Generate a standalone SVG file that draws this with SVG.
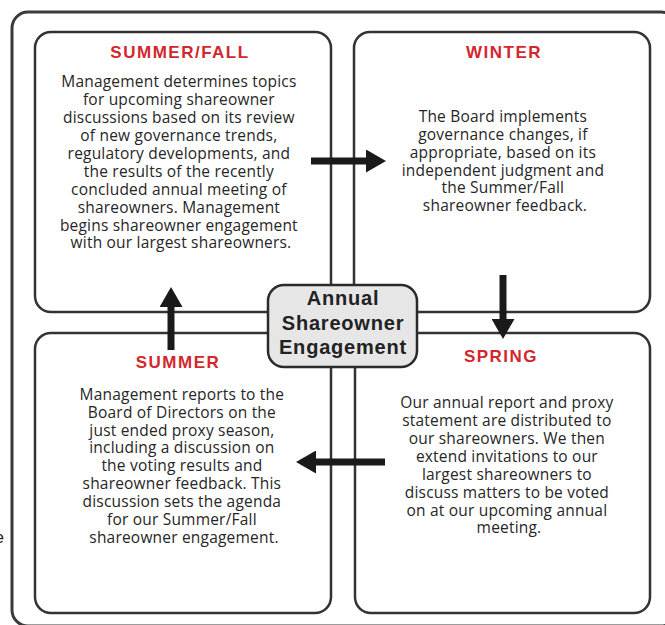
<svg xmlns="http://www.w3.org/2000/svg" width="665" height="625" viewBox="0 0 665 625">
<defs>
<style>
.frame{fill:none;stroke:#3a3a3a;stroke-width:3}
.box{fill:#fff;stroke:#333;stroke-width:2.5}
.hub{fill:#e6e6e6;stroke:#2a2a2a;stroke-width:2.5}
.title{font-family:"Liberation Sans",Arial,sans-serif;font-weight:bold;font-size:17px;fill:#d3272e;letter-spacing:1.5px;text-anchor:middle}
.hubtext{font-family:"Liberation Sans",Arial,sans-serif;font-weight:bold;font-size:20px;fill:#222;letter-spacing:0.8px;text-anchor:middle}
.body{font-family:"Open Sans","Liberation Sans",sans-serif;font-size:15.5px;fill:#262626;text-anchor:middle;letter-spacing:0.2px}
.conn{stroke:#1a1a1a;stroke-width:7;fill:none}
</style>
<marker id="head" markerUnits="userSpaceOnUse" markerWidth="20" markerHeight="23" viewBox="0 0 20 23" refX="1" refY="11.5" orient="auto">
<path d="M0,0 L20,11.5 L0,23 z" fill="#1a1a1a"/>
</marker>
</defs>
<rect width="665" height="625" fill="#fff"/>
<rect class="frame" x="12" y="12" width="665" height="614" rx="16"/>
<text x="4" y="543" font-family="Liberation Sans, Arial, sans-serif" font-size="17" fill="#222" text-anchor="end">e</text>

<g id="summerfall">
<rect class="box" x="35" y="32" width="296" height="280" rx="16"/>
<text class="title" x="180" y="58">SUMMER/FALL</text>
<text class="body">
<tspan x="181" y="87">Management determines topics</tspan>
<tspan x="181" y="105">for upcoming shareowner</tspan>
<tspan x="181" y="123">discussions based on its review</tspan>
<tspan x="181" y="141">of new governance trends,</tspan>
<tspan x="181" y="159">regulatory developments, and</tspan>
<tspan x="181" y="177">the results of the recently</tspan>
<tspan x="181" y="195">concluded annual meeting of</tspan>
<tspan x="181" y="213">shareowners.  Management</tspan>
<tspan x="181" y="231">begins shareowner engagement</tspan>
<tspan x="181" y="248">with our largest shareowners.</tspan>
</text>
</g>

<g id="winter">
<rect class="box" x="354" y="32" width="296" height="280" rx="16"/>
<text class="title" x="504" y="58">WINTER</text>
<text class="body">
<tspan x="505" y="122">The Board implements</tspan>
<tspan x="505" y="140">governance changes, if</tspan>
<tspan x="505" y="158">appropriate, based on its</tspan>
<tspan x="505" y="176">independent judgment and</tspan>
<tspan x="505" y="193">the Summer/Fall</tspan>
<tspan x="505" y="211">shareowner feedback.</tspan>
</text>
</g>

<g id="summer">
<rect class="box" x="35" y="333" width="296" height="280" rx="16"/>
<text class="title" x="178" y="368">SUMMER</text>
<text class="body">
<tspan x="184" y="400">Management reports to the</tspan>
<tspan x="184" y="418">Board of Directors on the</tspan>
<tspan x="184" y="436">just ended proxy season,</tspan>
<tspan x="184" y="453">including a discussion on</tspan>
<tspan x="184" y="471">the voting results and</tspan>
<tspan x="184" y="489">shareowner feedback. This</tspan>
<tspan x="184" y="507">discussion sets the agenda</tspan>
<tspan x="184" y="525">for our Summer/Fall</tspan>
<tspan x="184" y="543">shareowner engagement.</tspan>
</text>
</g>

<g id="spring">
<rect class="box" x="355" y="333" width="295" height="280" rx="16"/>
<text class="title" x="501" y="362">SPRING</text>
<text class="body">
<tspan x="509" y="408">Our annual report and proxy</tspan>
<tspan x="509" y="426">statement are distributed to</tspan>
<tspan x="509" y="444">our shareowners.  We then</tspan>
<tspan x="509" y="462">extend invitations to our</tspan>
<tspan x="509" y="480">largest shareowners to</tspan>
<tspan x="509" y="498">discuss matters to be voted</tspan>
<tspan x="509" y="516">on at our upcoming annual</tspan>
<tspan x="509" y="533">meeting.</tspan>
</text>
</g>

<g id="connectors">
<line class="conn" x1="311" y1="161" x2="367" y2="161" marker-end="url(#head)"/>
<line class="conn" x1="503" y1="275" x2="503" y2="320" marker-end="url(#head)"/>
<line class="conn" x1="385" y1="462" x2="315" y2="462" marker-end="url(#head)"/>
<line class="conn" x1="171" y1="350" x2="171" y2="306" marker-end="url(#head)"/>
</g>

<g id="hub">
<rect class="hub" x="268" y="285" width="149" height="82" rx="16"/>
<text class="hubtext" x="343" y="305">Annual</text>
<text class="hubtext" x="343" y="330">Shareowner</text>
<text class="hubtext" x="343" y="354">Engagement</text>
</g>
</svg>
